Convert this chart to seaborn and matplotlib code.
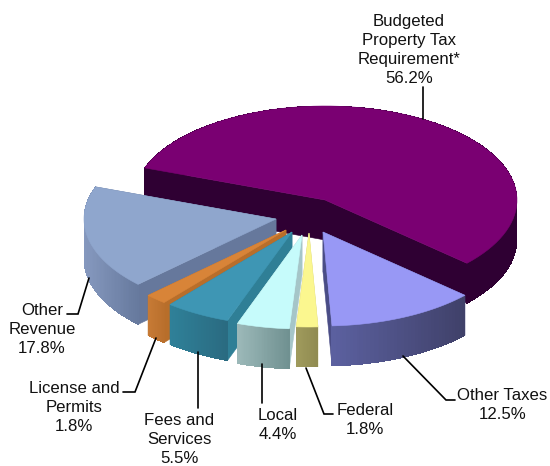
import numpy as np
import seaborn as sns
import matplotlib.pyplot as plt
from matplotlib.patches import Polygon

# slice values, clockwise from the left end of the big slice
names = ["Budgeted\nProperty Tax\nRequirement*", "Other Taxes", "Federal", "Local",
         "Fees and\nServices", "License and\nPermits", "Other\nRevenue"]
shares = [56.2, 12.5, 1.8, 4.4, 5.5, 1.8, 17.8]

top_colors = ["#7a0072", "#9898f5", "#fbf78f", "#c6fbfb", "#3e96b4", "#d88438", "#8fa6cd"]
side_colors = [("#2f0033", "#2f0033"), ("#5b609f", "#3f4068"), ("#9f9a5c", "#8f8a50"),
               ("#9bb8b8", "#6f9090"), ("#2f8098", "#2a6a80"), ("#c67a35", "#b96f2c"),
               ("#8598be", "#66799d")]
cut_colors = ["#2f0033", "#4a4d86", "#c9c57a", "#a5c5c8", "#2f7f96", "#b86e2a", "#66789c"]

# pixel layout of the picture
CENTER = (325, 200)
RX, RY, DEPTH = 192, 94, 40
START_ANGLE = 160
OFFSETS = [(0, 0), (-2, 32), (-16, 33), (-23, 35), (-33, 32), (-39, 30), (-49, 19)]
DRAW_ORDER = [0, 1, 6, 5, 4, 3, 2]

# x centre and top of the text for each slice
LABELS = [
    (409, 14, 0), (502.5, 388, 1), (365, 403, 2), (278, 408, 3),
    (179, 413, 4), (74, 381, 5), (42, 303, 6),
]
LEADERS = [
    [(423, 87), (423, 119)],
    [(403, 356), (446, 400), (455, 400)],
    [(306, 368), (324, 414), (333, 414)],
    [(262, 364), (262, 403)],
    [(198, 352), (198, 408)],
    [(156, 338), (135, 392), (123, 392)],
    [(89, 278), (78, 314), (67, 314)],
]


def rim(cx, cy, a0, a1, n=80):
    t = np.radians(np.linspace(a0, a1, n))
    return cx + RX * np.cos(t), cy - RY * np.sin(t)


def draw_slice(ax, i, a0, a1):
    cx, cy = CENTER[0] + OFFSETS[i][0], CENTER[1] + OFFSETS[i][1]
    xs, ys = rim(cx, cy, a0, a1)

    # the two cut faces
    for x, y in [(xs[0], ys[0]), (xs[-1], ys[-1])]:
        quad = [(cx, cy), (x, y), (x, y + DEPTH), (cx, cy + DEPTH)]
        ax.add_patch(Polygon(quad, fc=cut_colors[i], ec=cut_colors[i], lw=0.4))

    # outer wall, shaded from left to right; strips overlap so no seams show
    ramp = sns.blend_palette(side_colors[i], 40)
    left, right = xs.min(), xs.max()
    for j in range(len(xs) - 1):
        k = min(j + 3, len(xs) - 1)
        mid = (xs[j] + xs[j + 1]) / 2
        c = ramp[int(39 * (mid - left) / max(right - left, 1))]
        quad = [(xs[j], ys[j]), (xs[k], ys[k]), (xs[k], ys[k] + DEPTH), (xs[j], ys[j] + DEPTH)]
        ax.add_patch(Polygon(quad, fc=c, ec="none", antialiased=False))

    # top face
    pts = [(cx, cy)] + list(zip(xs, ys))
    ax.add_patch(Polygon(pts, fc=top_colors[i], ec=top_colors[i], lw=0.4))


sns.set_theme(style="white")
plt.rcParams["font.family"] = ["Liberation Sans", "DejaVu Sans"]

fig = plt.figure(figsize=(5.5, 4.66), dpi=100)
ax = fig.add_axes([0, 0, 1, 1])
ax.set_xlim(0, 550)
ax.set_ylim(466, 0)
ax.axis("off")

ends = START_ANGLE - np.cumsum(shares) * 360 / sum(shares)
starts = np.r_[START_ANGLE, ends[:-1]]
for i in DRAW_ORDER:
    draw_slice(ax, i, starts[i], ends[i])

for x, y, i in LABELS:
    ax.text(x, y, f"{names[i]}\n{shares[i]}%", ha="center", va="top",
            fontsize=12.1, color="#111111", linespacing=1.33)

for line in LEADERS:
    lx, ly = zip(*line)
    ax.plot(lx, ly, color="black", lw=1.2, solid_joinstyle="miter")

fig.savefig("out.png", dpi=100)
